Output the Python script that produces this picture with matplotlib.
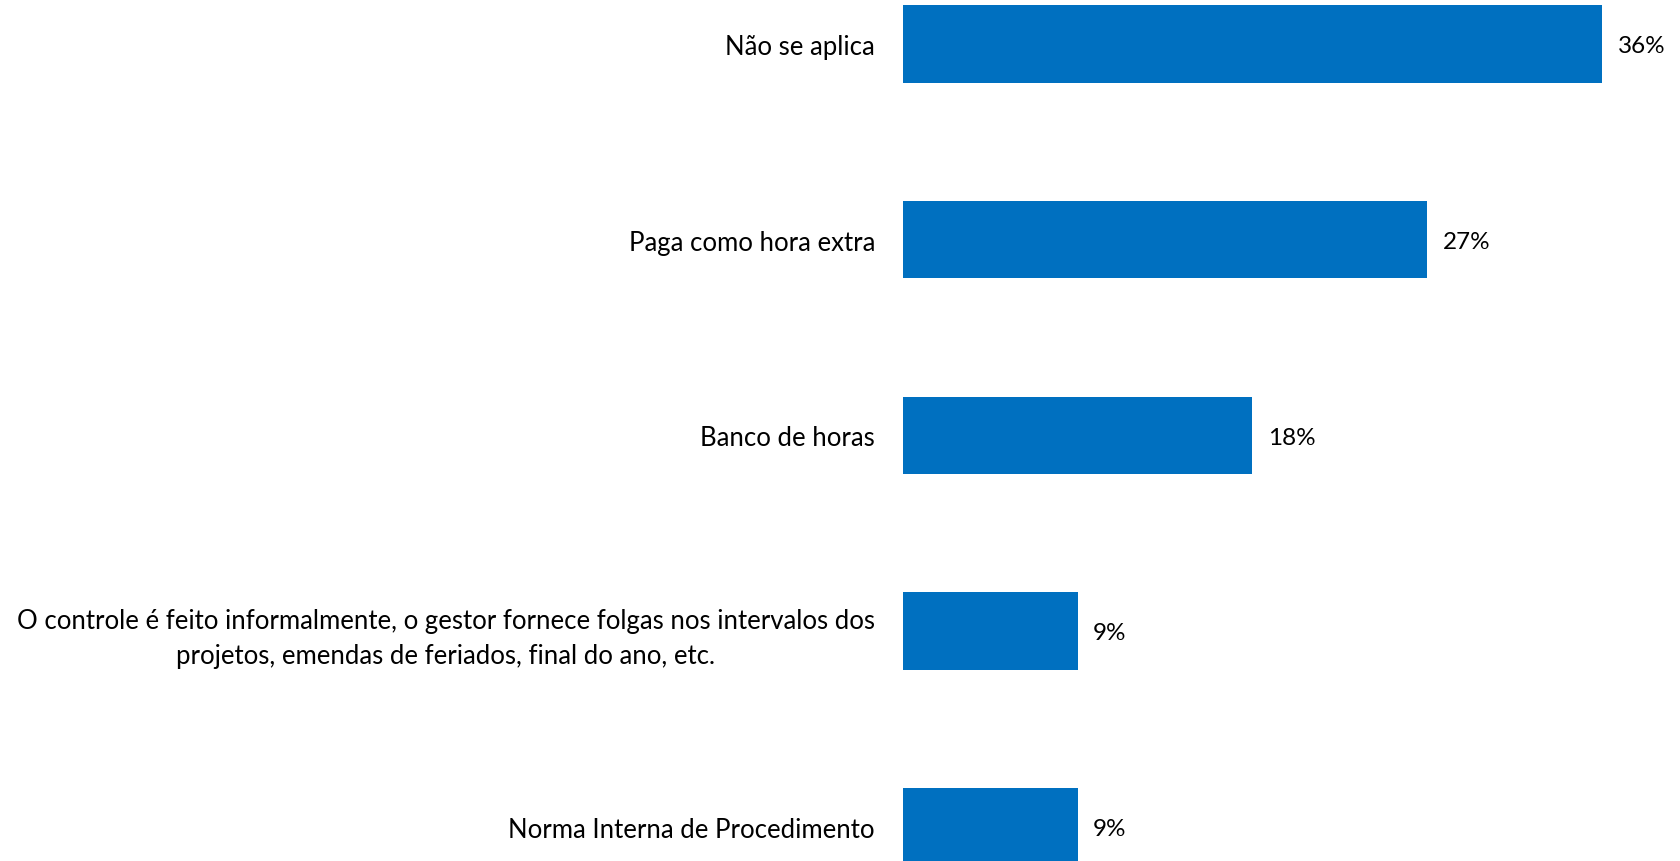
import matplotlib
matplotlib.use("Agg")
import matplotlib.pyplot as plt

# data (top to bottom)
categories = [
    "Não se aplica",
    "Paga como hora extra",
    "Banco de horas",
    "O controle é feito informalmente, o gestor fornece folgas nos intervalos dos\nprojetos, emendas de feriados, final do ano, etc.",
    "Norma Interna de Procedimento",
]
values = [36.4, 27.3, 18.2, 9.1, 9.1]

BAR_COLOR = "#0070C0"
plt.rcParams["font.family"] = ["Lato", "DejaVu Sans"]

fig = plt.figure(figsize=(16.81, 8.62), dpi=100)
ax = fig.add_axes([0.537, 0.0, 0.463, 1.0])

ypos = list(range(len(categories)))
ax.barh(ypos, values, height=0.395, color=BAR_COLOR)

for y, v in zip(ypos, values):
    ax.text(v + 0.8, y + 0.01, f"{v:.0f}%", va="center", ha="left", fontsize=17.5, color="black")

ax.set_yticks(ypos)
ax.set_yticklabels(categories, fontsize=18.5)
for lbl in ax.get_yticklabels():
    lbl.set_multialignment("center")
    lbl.set_linespacing(1.48)
ax.tick_params(axis="y", length=0, pad=20)
ax.set_xticks([])
ax.set_xlim(0, 40.5)
ax.set_ylim(4.176, -0.230)
for s in ax.spines.values():
    s.set_visible(False)

fig.savefig("out.png", dpi=100)
